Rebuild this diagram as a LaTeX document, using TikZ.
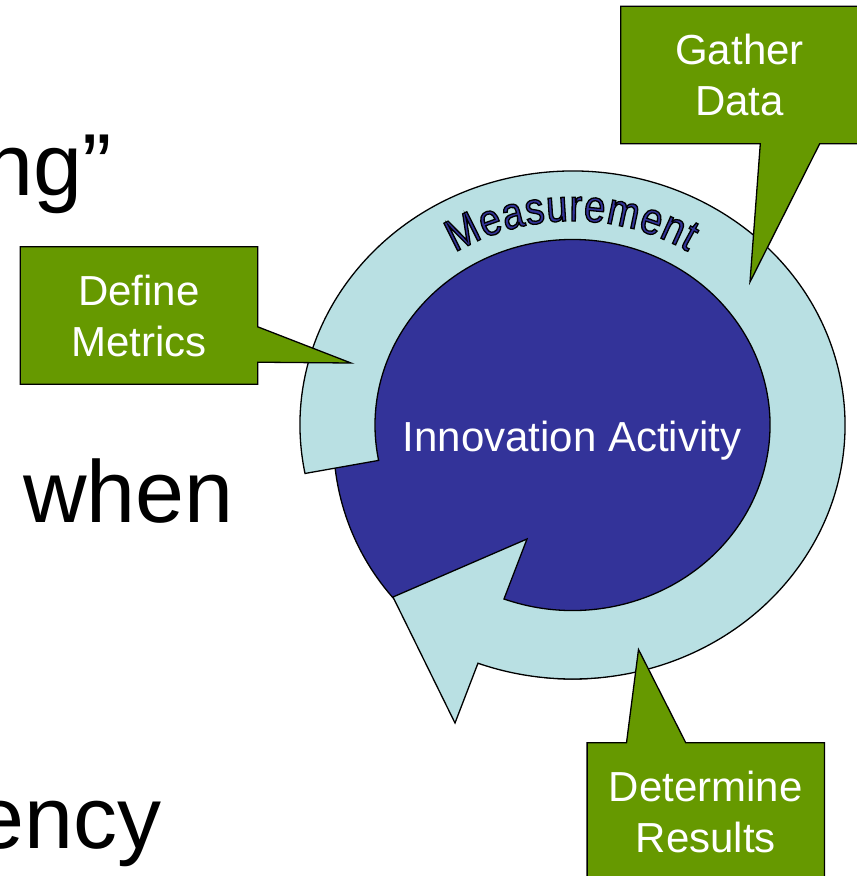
\documentclass[tikz,border=0pt]{standalone}
\usepackage{fontspec}
\setmainfont{Liberation Sans}
\newfontfamily\arcfamily[FakeStretch=0.85]{Liberation Sans}
\usepackage{xcolor}
\definecolor{ringblue}{RGB}{185,224,227}
\definecolor{coreblue}{RGB}{51,51,153}
\definecolor{calloutgreen}{RGB}{102,153,0}
\usepackage{tikz}
\usetikzlibrary{calc}
\usetikzlibrary{decorations.text}
\newcommand{\labelfont}{\fontsize{42}{51}\selectfont}
\newcommand{\slidefont}{\fontsize{88}{100}\selectfont}
\newcommand{\arcfont}{\arcfamily\fontsize{45}{45}\selectfont\special{pdf:literal direct 0 0 0 RG 1.3 w 2 Tr}}
\pgfdeclarelayer{ringlayer}
\pgfdeclarelayer{calloutlayer}
\pgfsetlayers{ringlayer,calloutlayer,main}
\tikzset{
    outline/.style={draw=black, line width=1.3pt},
    core/.style={outline, fill=coreblue},
    ring/.style={outline, fill=ringblue},
    callout-shape/.style={outline, fill=calloutgreen},
    callout/.style={align=center, text=white, font=\labelfont, minimum width=237pt, minimum height=137pt, inner sep=0pt},
    slide-text/.style={font=\slidefont, inner sep=0pt}
}

\begin{document}
\begin{tikzpicture}[x=1pt, y=-1pt]
    \useasboundingbox (0,0) rectangle (857,876);
    \coordinate (c) at (572.5,425);
    \coordinate (tip) at (393,597);
    \coordinate (barb-in) at (527,539);
    \coordinate (barb-out) at (455,723);

    \begin{pgfonlayer}{ringlayer}
        \draw[core] (572.5,440) circle[radius=239];
        \draw[ring] ($(c)+(169:272.5 and 254)$)
            arc[start angle=169, end angle=470.3, x radius=272.5, y radius=254]
            -- (barb-out) -- (tip) -- (barb-in)
            -- ($(c)+(470.3:197.5 and 185.5)$)
            arc[start angle=470.3, end angle=169, x radius=197.5, y radius=185.5] -- cycle;
        \begin{scope}
            \path[decorate, decoration={text along path, text color=coreblue, text align={fit to path}, text={|\arcfont|Measurement}}]
                ($(c)+(-122.4:219 and 204)$) arc[start angle=-122.4, end angle=-58.2, x radius=219, y radius=204];
        \end{scope}
    \end{pgfonlayer}

    \node[font=\labelfont, text=white, anchor=base] (activity) at (572,451) {Innovation Activity};

    \node[slide-text, anchor=base east] (line-top) at (112,195) {ng”};
    \node[slide-text, anchor=base west] (line-mid) at (23,522) {when};
    \node[slide-text, anchor=base east] (line-bot) at (162,848) {ency};

    \node[callout] (gather) at (739.5,75) {Gather\\Data};
    \node[callout] (define) at (139,315.5) {Define\\Metrics};
    \node[callout] (determine) at (705.8,811.5) {Determine\\Results};
    \coordinate (gather-tip) at (750,282);
    \coordinate (define-tip) at (351,363);
    \coordinate (determine-tip) at (638.5,649.5);

    \begin{pgfonlayer}{calloutlayer}
        \draw[callout-shape] (gather.north west) -- (gather.north east) -- (gather.south east) -- ++(-38.5,0)
            -- (gather-tip) -- ($(gather.south west)+(139.5,0)$) -- (gather.south west) -- cycle;
        \draw[callout-shape] (define.north west) -- (define.north east) -- ++(0,80)
            -- (define-tip) -- ($(define.south east)+(0,-22)$) -- (define.south east) -- (define.south west) -- cycle;
        \draw[callout-shape] (determine.north west) -- ++(39.4,0)
            -- (determine-tip) -- ($(determine.north west)+(98.7,0)$) -- (determine.north east)
            -- (determine.south east) -- (determine.south west) -- cycle;
    \end{pgfonlayer}
\end{tikzpicture}
\end{document}
